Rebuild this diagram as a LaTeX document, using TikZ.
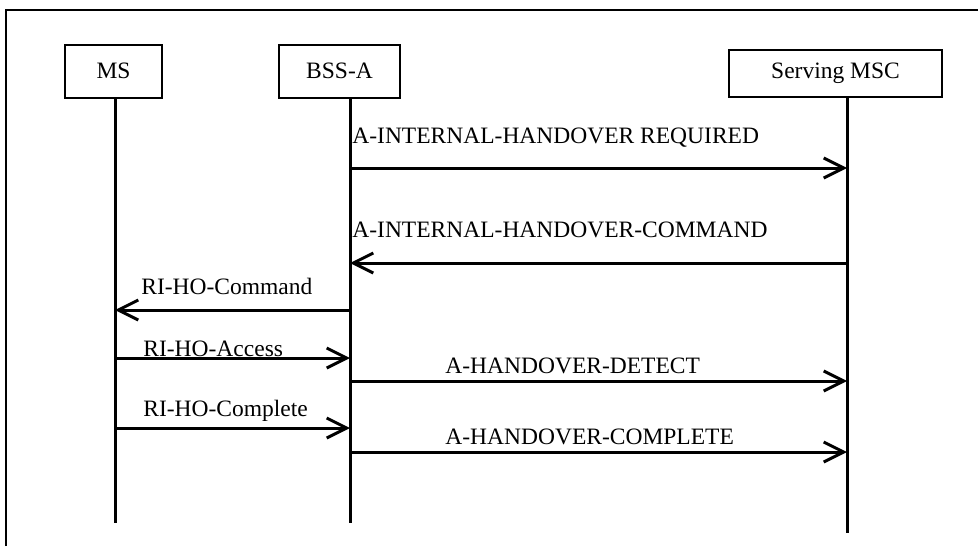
\documentclass[tikz,border=0pt]{standalone}
\usepackage{fontspec}
\setmainfont{Liberation Serif}
\usetikzlibrary{arrows.meta}
\tikzset{
  entity/.style={draw, line width=1pt, inner sep=0pt, font=\fontsize{11.75}{14}\selectfont},
  life/.style={line width=1.5pt},
  msg/.style={line width=1.5pt, -{Straight Barb[length=10pt,width=10pt]}},
  lbl/.style={anchor=base west, inner sep=0pt, font=\fontsize{11.75}{14}\selectfont},
}
\begin{document}
\begin{tikzpicture}[x=0.5pt, y=-0.5pt]
    \useasboundingbox (0,0) rectangle (978,546);
    \draw [line width=1pt] (6,546) |- (978,10);
    \node [entity, minimum width=48.5pt, minimum height=26.5pt] (ms) at (113.5,71) {MS};
    \node [entity, minimum width=60.5pt, minimum height=26.5pt] (bss) at (339.5,71) {BSS-A};
    \node [entity, minimum width=106.5pt, minimum height=23.5pt] (msc) at (835.5,73.5) {Serving MSC};
    \coordinate (ms-top) at (ms.south -| 115,0);
    \coordinate (bss-top) at (bss.south -| 350,0);
    \coordinate (msc-top) at (msc.south -| 847,0);
    \coordinate (ms-bot) at (115,523);
    \coordinate (bss-bot) at (350,523);
    \coordinate (msc-bot) at (847,533);
    \draw [life] (ms-top) -- (ms-bot);
    \draw [life] (bss-top) -- (bss-bot);
    \draw [life] (msc-top) -- (msc-bot);
    \draw [msg] (bss-top |- 0,168) -- (msc-top |- 0,168);
    \node [lbl] (req) at (352,143) {A-INTERNAL-HANDOVER REQUIRED};
    \draw [msg] (msc-top |- 0,263) -- (bss-top |- 0,263);
    \node [lbl] (cmd) at (352,237) {A-INTERNAL-HANDOVER-COMMAND};
    \draw [msg] (bss-top |- 0,310) -- (ms-top |- 0,310);
    \node [lbl] (ricmd) at (141,294) {RI-HO-Command};
    \draw [msg] (ms-top |- 0,358) -- (bss-top |- 0,358);
    \node [lbl] (riacc) at (143,356) {RI-HO-Access};
    \draw [msg] (bss-top |- 0,381) -- (msc-top |- 0,381);
    \node [lbl] (det) at (445,373) {A-HANDOVER-DETECT};
    \draw [msg] (ms-top |- 0,428) -- (bss-top |- 0,428);
    \node [lbl] (ricmp) at (143,416) {RI-HO-Complete};
    \draw [msg] (bss-top |- 0,452) -- (msc-top |- 0,452);
    \node [lbl] (cmp) at (445,444) {A-HANDOVER-COMPLETE};
  \end{tikzpicture}
\end{document}
